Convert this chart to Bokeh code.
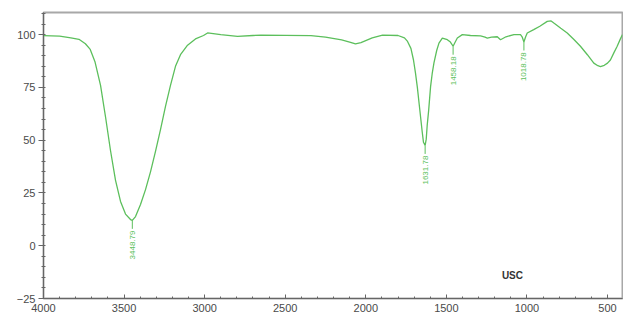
from bokeh.plotting import figure
from bokeh.models import Range1d, FixedTicker, Label, ColumnDataSource
from bokeh.core.properties import value
from bokeh.embed import file_html
from bokeh.resources import INLINE
import math

# wavenumber (1/cm) and transmittance (%T)
wavenumber = [4000, 3900, 3830, 3780, 3740, 3710, 3680, 3646, 3615, 3584, 3553, 3522, 3491,
              3460, 3448.79, 3429, 3398, 3367, 3336, 3305, 3274, 3243, 3212, 3181, 3150,
              3106, 3057, 3007, 2982, 2900, 2796, 2700, 2650, 2500, 2340, 2250, 2150, 2100,
              2064, 2030, 1960, 1896, 1800, 1760, 1741, 1720, 1704, 1692, 1680, 1670, 1660,
              1650, 1642, 1631.78, 1625, 1619, 1610, 1598, 1588, 1577, 1560, 1546, 1525, 1494,
              1475, 1458.18, 1445, 1432, 1401, 1350, 1288, 1260, 1246, 1220, 1184, 1164, 1130,
              1081, 1040, 1030, 1018.78, 1008, 998, 958, 920, 874, 850, 833, 790, 750, 710,
              668, 625, 585, 560, 544, 520, 500, 482, 460, 440, 420, 407]
transmittance = [99.5, 99.3, 98.5, 97.8, 95.7, 93.0, 87.0, 76.0, 61.0, 45.0, 31.0, 21.0, 15.0,
                 12.4, 12.0, 13.8, 19.5, 26.6, 35.0, 44.7, 55.0, 66.0, 76.0, 85.0, 90.5,
                 95.0, 98.0, 99.6, 100.8, 100.0, 99.2, 99.6, 99.8, 99.7, 99.5, 98.8, 97.5, 96.5,
                 95.6, 96.2, 98.5, 99.8, 99.6, 98.5, 96.8, 93.5, 88.0, 82.0, 75.0, 68.0, 61.0,
                 54.0, 49.0, 47.5, 50.5, 57.0, 64.0, 75.4, 81.5, 86.6, 92.5, 96.0, 98.4, 97.6,
                 96.5, 94.5, 96.5, 98.4, 100.0, 99.6, 99.4, 98.8, 98.4, 98.8, 99.0, 97.6, 99.0,
                 100.0, 100.0, 99.0, 96.5, 99.0, 100.8, 102.4, 104.0, 106.3, 106.5, 105.5, 103.0, 100.8, 97.8,
                 94.5, 90.5, 86.5, 85.3, 84.9, 85.5, 86.5, 88.0, 91.5, 94.5, 98.0, 100.0]

peak_x = [3448.79, 1631.78, 1458.18, 1018.78]
peak_y = [12.0, 47.5, 94.5, 96.5]
peak_labels = ["3448.79", "1631.78", "1458.18", "1018.78"]

x_ticks = [4000, 3500, 3000, 2500, 2000, 1500, 1000, 500]
y_ticks = [-25, 0, 25, 50, 75, 100]

GREEN = "#5cbf5c"
FONT = "Liberation Sans"

p = figure(width=623, height=322, output_backend="svg", toolbar_location=None,
           x_range=Range1d(4000, 407), y_range=Range1d(-25, 110.5),
           min_border_left=43, min_border_right=1, min_border_top=12, min_border_bottom=24)
p.background_fill_color = "white"
p.border_fill_color = "white"
p.outline_line_color = "#a8a8a8"
p.outline_line_width = 2
p.xgrid.visible = False
p.ygrid.visible = False

p.line(wavenumber, transmittance, line_color=GREEN, line_width=1.3)

# peak pick leaders and labels
lead_len = 4.0
p.segment(x0=peak_x, y0=peak_y, x1=peak_x, y1=[v - lead_len for v in peak_y],
          line_color=GREEN, line_width=1)
src = ColumnDataSource(dict(x=peak_x, y=[v - lead_len - 0.8 for v in peak_y], t=peak_labels))
p.text(x="x", y="y", text="t", source=src, angle=math.pi / 2, text_align="right",
       text_baseline="middle", text_font_size="8px", text_color=GREEN,
       text_font=value(FONT))

# axes
xa = p.xaxis[0]
xa.ticker = FixedTicker(ticks=x_ticks, minor_ticks=list(range(4000, 399, -100)))
xa.major_tick_in = 4
xa.major_tick_out = 0
xa.minor_tick_in = 2
xa.minor_tick_out = 0
xa.axis_line_color = "#666666"
xa.major_tick_line_color = "#666666"
xa.minor_tick_line_color = "#666666"
xa.major_label_text_font_size = "11px"
xa.major_label_text_color = "#4a4a4a"
xa.major_label_text_font = FONT
xa.major_label_standoff = 5

ya = p.yaxis[0]
ya.ticker = FixedTicker(ticks=y_ticks, minor_ticks=list(range(-25, 111, 5)))
ya.major_tick_in = 0
ya.major_tick_out = 5
ya.minor_tick_in = 2
ya.minor_tick_out = 2
ya.axis_line_color = "#666666"
ya.major_tick_line_color = "#666666"
ya.minor_tick_line_color = "#666666"
ya.major_label_text_font_size = "11px"
ya.major_label_text_color = "#4a4a4a"
ya.major_label_text_font = FONT
ya.major_label_standoff = 3

p.add_layout(Label(x=4000, y=88, x_offset=-10, text="%T", text_align="right",
                   text_baseline="middle", text_font_size="10px", text_color="#4a4a4a",
                   text_font=FONT))
p.add_layout(Label(x=1090, y=-14.3, text="USC", text_align="center",
                   text_baseline="middle", text_font_size="10px", text_font_style="bold",
                   text_color="#333333", text_font=FONT))

open("out.html", "w").write(file_html(p, INLINE))
